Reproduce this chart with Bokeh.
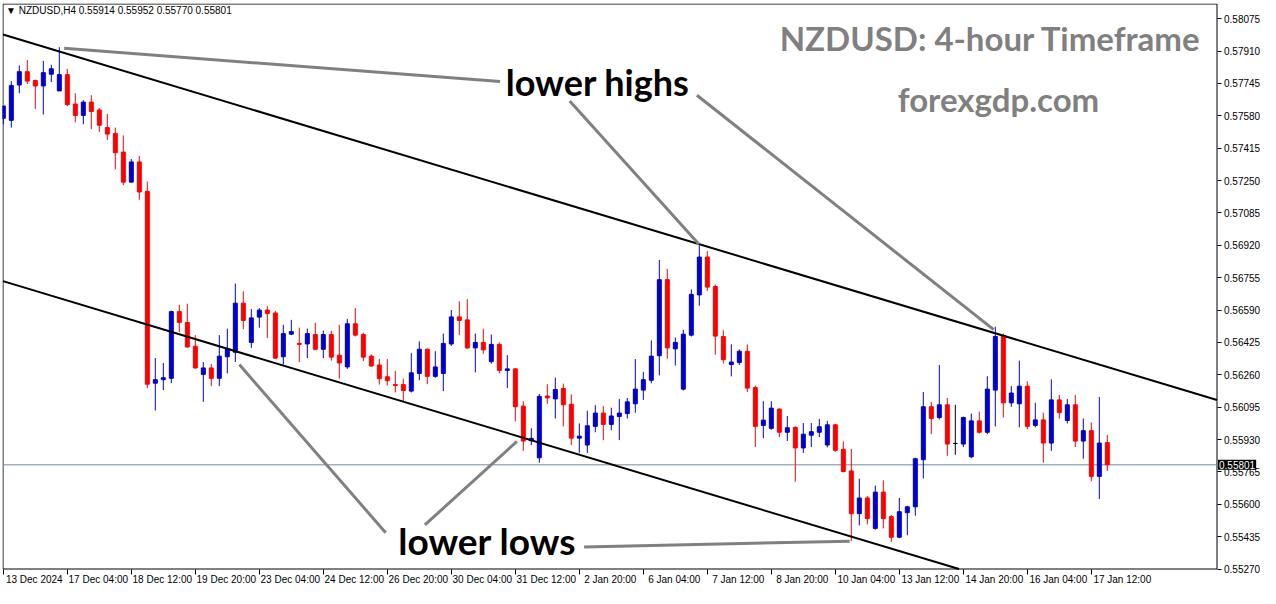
import numpy as np
from bokeh.plotting import figure
from bokeh.models import (ColumnDataSource, FixedTicker, LinearAxis, Range1d,
                          Label, PrintfTickFormatter)
from bokeh.embed import file_html
from bokeh.resources import INLINE

# ---------------- data ----------------
symbol = "NZDUSD"
timeframe = "H4"

opens = [0.57567, 0.57557, 0.57737, 0.57805, 0.57760, 0.57732, 0.57792, 0.57707, 0.57790, 0.57640,
         0.57582, 0.57650, 0.57610, 0.57520, 0.57490, 0.57395, 0.57242, 0.57345, 0.57195, 0.56217,
         0.56235, 0.56242, 0.56582, 0.56527, 0.56405, 0.56262, 0.56295, 0.56242, 0.56352, 0.56375,
         0.56625, 0.56425, 0.56554, 0.56590, 0.56575, 0.56352, 0.56467, 0.56420, 0.56417, 0.56465,
         0.56390, 0.56465, 0.56360, 0.56300, 0.56520, 0.56465, 0.56355, 0.56310, 0.56250, 0.56210,
         0.56210, 0.56177, 0.56267, 0.56390, 0.56252, 0.56267, 0.56417, 0.56555, 0.56540, 0.56397,
         0.56425, 0.56327, 0.56415, 0.56282, 0.56290, 0.56100, 0.55924, 0.55837, 0.56152, 0.56137,
         0.56190, 0.56110, 0.55937, 0.55902, 0.55997, 0.56065, 0.56007, 0.56047, 0.56062, 0.56112,
         0.56182, 0.56232, 0.56357, 0.56745, 0.56392, 0.56187, 0.56462, 0.56667, 0.56860, 0.56710,
         0.56455, 0.56312, 0.56322, 0.56380, 0.56195, 0.56002, 0.55987, 0.56085, 0.55967, 0.55992,
         0.55887, 0.55952, 0.55967, 0.55902, 0.56005, 0.55880, 0.55770, 0.55552, 0.55632, 0.55477,
         0.55662, 0.55537, 0.55432, 0.55557, 0.55587, 0.55827, 0.56097, 0.56042, 0.56107, 0.55910,
         0.55907, 0.55842, 0.56025, 0.55967, 0.56182, 0.56460, 0.56117, 0.56112, 0.56202, 0.56002,
         0.56030, 0.55912, 0.56132, 0.56027, 0.56107, 0.55922, 0.55975, 0.55742, 0.55914]
highs = [0.57630, 0.57757, 0.57837, 0.57865, 0.57765, 0.57860, 0.57840, 0.57930, 0.57820, 0.57695,
         0.57660, 0.57685, 0.57620, 0.57590, 0.57520, 0.57480, 0.57360, 0.57375, 0.57245, 0.56345,
         0.56320, 0.56587, 0.56617, 0.56622, 0.56462, 0.56325, 0.56315, 0.56462, 0.56495, 0.56725,
         0.56685, 0.56595, 0.56600, 0.56610, 0.56585, 0.56515, 0.56540, 0.56500, 0.56495, 0.56525,
         0.56485, 0.56485, 0.56515, 0.56545, 0.56600, 0.56475, 0.56365, 0.56340, 0.56340, 0.56280,
         0.56240, 0.56370, 0.56430, 0.56395, 0.56380, 0.56470, 0.56590, 0.56635, 0.56645, 0.56470,
         0.56495, 0.56465, 0.56425, 0.56360, 0.56295, 0.56125, 0.55987, 0.56162, 0.56212, 0.56245,
         0.56215, 0.56160, 0.56012, 0.56077, 0.56105, 0.56100, 0.56092, 0.56137, 0.56142, 0.56340,
         0.56275, 0.56435, 0.56845, 0.56800, 0.56450, 0.56490, 0.56695, 0.56920, 0.56890, 0.56720,
         0.56487, 0.56415, 0.56390, 0.56415, 0.56205, 0.56125, 0.56125, 0.56090, 0.56050, 0.55997,
         0.56014, 0.56014, 0.56035, 0.56025, 0.56010, 0.55920, 0.55882, 0.55730, 0.55642, 0.55695,
         0.55722, 0.55545, 0.55632, 0.55592, 0.55837, 0.56172, 0.56122, 0.56310, 0.56142, 0.56107,
         0.56047, 0.56062, 0.56072, 0.56252, 0.56505, 0.56470, 0.56202, 0.56332, 0.56227, 0.56117,
         0.56067, 0.56237, 0.56157, 0.56137, 0.56157, 0.56037, 0.56017, 0.56147, 0.55952]
lows = [0.57537, 0.57520, 0.57695, 0.57742, 0.57615, 0.57587, 0.57752, 0.57707, 0.57630, 0.57547,
        0.57537, 0.57512, 0.57497, 0.57457, 0.57307, 0.57227, 0.57242, 0.57152, 0.56192, 0.56078,
        0.56182, 0.56217, 0.56477, 0.56397, 0.56290, 0.56122, 0.56202, 0.56202, 0.56267, 0.56325,
        0.56492, 0.56397, 0.56500, 0.56447, 0.56340, 0.56312, 0.56462, 0.56325, 0.56345, 0.56385,
        0.56345, 0.56332, 0.56240, 0.56290, 0.56455, 0.56330, 0.56300, 0.56210, 0.56205, 0.56170,
        0.56125, 0.56170, 0.56232, 0.56212, 0.56245, 0.56177, 0.56407, 0.56462, 0.56392, 0.56272,
        0.56367, 0.56317, 0.56267, 0.56192, 0.56022, 0.55872, 0.55902, 0.55812, 0.56112, 0.56037,
        0.55997, 0.55902, 0.55862, 0.55862, 0.55967, 0.55927, 0.55977, 0.55927, 0.56037, 0.56067,
        0.56132, 0.56217, 0.56257, 0.56342, 0.56307, 0.56180, 0.56455, 0.56612, 0.56687, 0.56362,
        0.56317, 0.56252, 0.56310, 0.56172, 0.55892, 0.55937, 0.55980, 0.55942, 0.55922, 0.55715,
        0.55862, 0.55892, 0.55942, 0.55890, 0.55867, 0.55762, 0.55412, 0.55492, 0.55497, 0.55470,
        0.55477, 0.55407, 0.55427, 0.55442, 0.55542, 0.55732, 0.55957, 0.56032, 0.55847, 0.55852,
        0.55892, 0.55835, 0.55960, 0.55957, 0.55997, 0.56042, 0.56097, 0.55992, 0.55982, 0.55992,
        0.55812, 0.55872, 0.56037, 0.56012, 0.55892, 0.55832, 0.55717, 0.55627, 0.55770]
closes = [0.57630, 0.57735, 0.57805, 0.57757, 0.57732, 0.57800, 0.57820, 0.57790, 0.57637, 0.57582,
          0.57650, 0.57602, 0.57532, 0.57487, 0.57392, 0.57242, 0.57345, 0.57192, 0.56212, 0.56235,
          0.56245, 0.56582, 0.56527, 0.56402, 0.56295, 0.56295, 0.56242, 0.56355, 0.56393, 0.56625,
          0.56537, 0.56550, 0.56590, 0.56572, 0.56345, 0.56470, 0.56480, 0.56415, 0.56470, 0.56390,
          0.56465, 0.56350, 0.56320, 0.56520, 0.56462, 0.56350, 0.56305, 0.56240, 0.56230, 0.56205,
          0.56180, 0.56270, 0.56390, 0.56252, 0.56300, 0.56420, 0.56555, 0.56537, 0.56397, 0.56425,
          0.56387, 0.56415, 0.56282, 0.56290, 0.56097, 0.55922, 0.55936, 0.56150, 0.56142, 0.56185,
          0.56107, 0.55937, 0.55947, 0.56000, 0.56065, 0.56007, 0.56050, 0.56065, 0.56122, 0.56187,
          0.56235, 0.56355, 0.56745, 0.56397, 0.56425, 0.56467, 0.56670, 0.56860, 0.56707, 0.56457,
          0.56337, 0.56325, 0.56380, 0.56192, 0.55997, 0.56029, 0.56090, 0.55967, 0.55990, 0.55887,
          0.55957, 0.55970, 0.55995, 0.56005, 0.55875, 0.55767, 0.55552, 0.55632, 0.55527, 0.55662,
          0.55527, 0.55432, 0.55562, 0.55587, 0.55832, 0.56097, 0.56037, 0.56107, 0.55907, 0.55910,
          0.56042, 0.56025, 0.55967, 0.56187, 0.56455, 0.56117, 0.56167, 0.56202, 0.55997, 0.56030,
          0.55912, 0.56132, 0.56067, 0.56107, 0.55922, 0.55975, 0.55742, 0.55912, 0.55801]

tick_bars = [0, 8, 16, 24, 32, 40, 48, 56, 64, 72, 80, 88, 96, 104, 112, 120, 128, 136]
tick_labels = ["13 Dec 2024", "17 Dec 04:00", "18 Dec 12:00", "19 Dec 20:00", "23 Dec 04:00",
               "24 Dec 12:00", "26 Dec 20:00", "30 Dec 04:00", "31 Dec 12:00", "2 Jan 20:00",
               "6 Jan 04:00", "7 Jan 12:00", "8 Jan 20:00", "10 Jan 04:00", "13 Jan 12:00",
               "14 Jan 20:00", "16 Jan 04:00", "17 Jan 12:00"]
price_ticks = [0.58075, 0.57910, 0.57745, 0.57580, 0.57415, 0.57250, 0.57085, 0.56920, 0.56755,
               0.56590, 0.56425, 0.56260, 0.56095, 0.55930, 0.55765, 0.55600, 0.55435, 0.55270]

# channel trend lines (bar index, price)
upper_line_x = [-1, 154]
upper_line_y = [0.58006, 0.56103]
lower_line_x = [-1, 154]
lower_line_y = [0.56749, 0.54846]

# annotation pointer segments (bar index, price)
ann_x0 = [7.6, 70.8, 86.7, 29.5, 52.7, 72.6]
ann_y0 = [0.57924, 0.57655, 0.57685, 0.56312, 0.55495, 0.55382]
ann_x1 = [62.1, 86.96, 123.8, 47.8, 64.2, 105.8]
ann_y1 = [0.57755, 0.56925, 0.56490, 0.55455, 0.55920, 0.55412]

# ---------------- layout / style ----------------
BULL = "#0000CD"
BEAR = "#FF0000"
DOJI = "#000000"
AX_FONT = "Liberation Sans"
W, H = 1260, 588
BL, BT = 2, 3                       # canvas offset of the frame
FW, FH = W - BL, H - BT             # frame size in px
PX_PER_BAR = 8.0
XS = -0.1                           # bar value at frame left
CH_W, CH_H = 1214, 565              # chart-area size in px (border to border)
YT, YB = 0.58150, 0.55270           # prices at top / bottom border
K = (YT - YB) / CH_H                # price per px

XL = XS + 0.5 / PX_PER_BAR          # left border
XR = XS + (CH_W + 0.5) / PX_PER_BAR # right border (price scale)
XEND = XS + FW / PX_PER_BAR
YEND = YT + 0.5 * K
YSTART = YEND - FH * K

idx = np.arange(len(opens))
o = np.array(opens); c = np.array(closes); h = np.array(highs); l = np.array(lows)
colors = np.where(c > o, BULL, np.where(c < o, BEAR, DOJI))

src = ColumnDataSource(dict(x=idx, o=o, h=h, l=l, c=c,
                            top=np.maximum(o, c), bottom=np.minimum(o, c), color=colors))

p = figure(width=W, height=H, output_backend="svg", toolbar_location=None,
           x_range=Range1d(XS, XEND), y_range=Range1d(YSTART, YEND),
           x_axis_location=None, y_axis_location=None,
           min_border_left=BL, min_border_top=BT, min_border_right=0, min_border_bottom=0,
           background_fill_color="white", border_fill_color="white",
           outline_line_color=None)
p.grid.visible = False

# time axis at the bottom border (labels to the right of each tick, as in MT4)
shift = 3.875
xaxis = LinearAxis(fixed_location=YB,
                   ticker=FixedTicker(ticks=[t + shift for t in tick_bars], minor_ticks=tick_bars),
                   major_label_overrides={t + shift: lab for t, lab in zip(tick_bars, tick_labels)},
                   major_tick_out=0, major_tick_in=0, minor_tick_out=5, minor_tick_in=0,
                   minor_tick_line_color="black", axis_line_color=None,
                   major_label_standoff=0, major_label_text_font=AX_FONT,
                   major_label_text_font_size="10px", major_label_text_color="black")
p.add_layout(xaxis, "below")

# price axis at the right border
yaxis = LinearAxis(fixed_location=XR, ticker=FixedTicker(ticks=price_ticks),
                   formatter=PrintfTickFormatter(format="%.5f"),
                   major_tick_out=4, major_tick_in=0, minor_tick_out=0, minor_tick_in=0,
                   axis_line_color=None, major_tick_line_color="black",
                   major_label_standoff=3, major_label_text_font=AX_FONT,
                   major_label_text_font_size="10px", major_label_text_color="black")
p.add_layout(yaxis, "right")

# chart-area border
p.line([XL, XR, XR, XL, XL], [YT, YT, YB, YB, YT], line_color="black", line_width=1)

# current price line
last_close = closes[-1]
p.segment(x0=[XL], y0=[last_close], x1=[XR], y1=[last_close], line_color="#778899", line_width=1)

# candles
p.segment(x0="x", y0="l", x1="x", y1="h", color="color", line_width=1, source=src)
p.vbar(x="x", width=0.5, top="top", bottom="bottom", fill_color="color", line_color="color",
       line_width=1, source=src)

# channel lines, cut at the chart-area border
su = (upper_line_y[1] - upper_line_y[0]) / (upper_line_x[1] - upper_line_x[0])
sl = (lower_line_y[1] - lower_line_y[0]) / (lower_line_x[1] - lower_line_x[0])
uy = lambda x: upper_line_y[0] + su * (x - upper_line_x[0])
ly = lambda x: lower_line_y[0] + sl * (x - lower_line_x[0])
x_low_end = lower_line_x[0] + (YB - lower_line_y[0]) / sl
p.line([XL, XR], [uy(XL), uy(XR)], line_color="black", line_width=2)
p.line([XL, x_low_end], [ly(XL), YB], line_color="black", line_width=2)

# annotation pointers
p.segment(x0=ann_x0, y0=ann_y0, x1=ann_x1, y1=ann_y1, line_color="#808080", line_width=3)

# texts
p.add_layout(Label(x=74.3, y=0.5775, text="lower highs", text_align="center", text_baseline="middle",
                   text_font="Lato", text_font_style="bold", text_font_size="36px", text_color="black"))
p.add_layout(Label(x=60.5, y=0.55415, text="lower lows", text_align="center", text_baseline="middle",
                   text_font="Lato", text_font_style="bold", text_font_size="37px", text_color="black"))
p.add_layout(Label(x=123.4, y=0.57975, text=f"{symbol}: 4-hour Timeframe", text_align="center",
                   text_baseline="middle", text_font="Lato", text_font_style="bold",
                   text_font_size="33px", text_color="#808080"))
p.add_layout(Label(x=124.4, y=0.57665, text="forexgdp.com", text_align="center",
                   text_baseline="middle", text_font="Lato", text_font_style="bold",
                   text_font_size="33px", text_color="#808080"))

header = (f"\u25BC {symbol},{timeframe}  {opens[-1]:.5f} {highs[-1]:.5f} "
          f"{lows[-1]:.5f} {closes[-1]:.5f}")
p.add_layout(Label(x=0.35, y=YT - 6 * K, text=header, text_align="left", text_baseline="middle",
                   text_font=AX_FONT, text_font_size="10px", text_color="black"))

# current price marker on the price scale
p.add_layout(Label(x=XR, y=last_close, x_offset=1, text=f"{last_close:.5f}", text_align="left",
                   text_baseline="middle", text_font=AX_FONT, text_font_size="10px",
                   text_color="white", background_fill_color="black", padding=1))

open("out.html", "w").write(file_html(p, INLINE))
